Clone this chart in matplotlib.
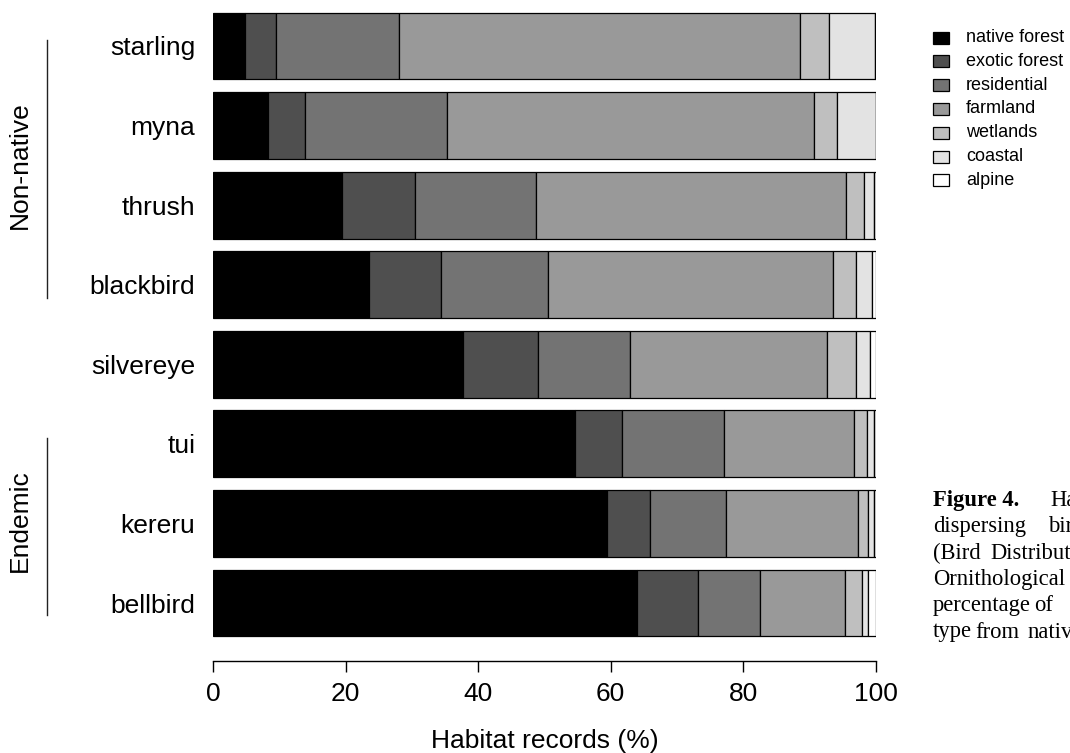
#### Workspace setup ####
import matplotlib
matplotlib.use('Agg')
import matplotlib.pyplot as plt
import matplotlib.transforms as mtransforms
from matplotlib.patches import Rectangle

plt.rcParams['font.family'] = ['Liberation Sans', 'DejaVu Sans']

#### Data ####
species = ['starling', 'myna', 'thrush', 'blackbird',
           'silvereye', 'tui', 'kereru', 'bellbird']

# Percentage of habitat records per species, one list per habitat type
native_forest = [4.8, 8.3, 19.4, 23.5, 37.7, 54.6, 59.5, 64.0]
exotic_forest = [4.7, 5.6, 11.0, 10.8, 11.3, 7.1, 6.5, 9.1]
residential = [18.6, 21.4, 18.3, 16.2, 13.9, 15.4, 11.4, 9.5]
farmland = [60.4, 55.4, 46.8, 43.0, 29.7, 19.6, 19.9, 12.7]
wetlands = [4.4, 3.5, 2.7, 3.6, 4.4, 2.0, 1.6, 2.6]
coastal = [7.0, 5.8, 1.6, 2.3, 2.1, 1.1, 0.9, 1.0]
alpine = [0.1, 0.0, 0.2, 0.6, 0.9, 0.2, 0.2, 1.1]

habitats = ['native forest', 'exotic forest', 'residential', 'farmland',
            'wetlands', 'coastal', 'alpine']
habitat_values = [native_forest, exotic_forest, residential, farmland,
                  wetlands, coastal, alpine]
greys = ['#000000', '#4f4f4f', '#737373', '#999999',
         '#bfbfbf', '#e3e3e3', '#ffffff']

groups = ['Non-native', 'Endemic']
group_members = [['starling', 'myna', 'thrush', 'blackbird'],
                 ['tui', 'kereru', 'bellbird']]

x_ticks = [0, 20, 40, 60, 80, 100]

caption_lines = [
    [('Figure 4.', 'bold', 933), ('Habitat', 'normal', 1050)],
    [('dispersing', 'normal', 933), ('birds', 'normal', 1048)],
    [('(Bird', 'normal', 933), ('Distribution', 'normal', 990)],
    [('Ornithological', 'normal', 933)],
    [('percentage', 'normal', 933), ('of', 'normal', 1034)],
    [('type', 'normal', 933), ('from', 'normal', 975), ('native', 'normal', 1027)],
]

#### Plot ####
W, H = 1070, 753
fig = plt.figure(figsize=(W / 100, H / 100), dpi=100)
ax = fig.add_axes([213.3 / W, 1 - 660.7 / H, 662.4 / W, 660.7 / H])

ypos = list(range(len(species)))
left = [0.0] * len(species)
for name, vals, col in zip(habitats, habitat_values, greys):
    ax.barh(ypos, vals, left=left, height=0.84, color=col,
            edgecolor='black', linewidth=0.9, label=name)
    left = [l + v for l, v in zip(left, vals)]

ax.set_xlim(0, 100)
ax.set_ylim(7.725, -0.578)
for side in ['top', 'right', 'left']:
    ax.spines[side].set_visible(False)
ax.spines['bottom'].set_linewidth(1.0)
ax.set_xticks(x_ticks)
ax.set_xticklabels([str(t) for t in x_ticks])
ax.tick_params(axis='x', length=8, width=1.0, labelsize=19, pad=7)
ax.set_yticks(ypos)
ax.set_yticklabels(species)
ax.tick_params(axis='y', length=0, labelsize=19, pad=13)
ax.set_xlabel('Habitat records (%)', fontsize=19, labelpad=17)

# Group brackets on the left margin
trans = mtransforms.blended_transform_factory(fig.transFigure, ax.transData)
group_spans = [(-0.075, 3.167), (4.927, 7.15)]
for g, members, (y0, y1) in zip(groups, group_members, group_spans):
    fig.add_artist(plt.Line2D([46.7 / W, 46.7 / W], [y0, y1], transform=trans,
                              color='#222222', linewidth=1.0))
    mid = (species.index(members[0]) + species.index(members[-1])) / 2
    if g == 'Endemic':
        mid = (y0 + y1) / 2 - 0.08
    fig.text(20 / W, mid, g, transform=trans, rotation=90,
             ha='center', va='center', fontsize=19)

# Legend drawn as boxes and labels
for i, (name, col) in enumerate(zip(habitats, greys)):
    yc = 37.5 + 23.8 * i
    fig.add_artist(Rectangle((933 / W, 1 - (yc + 6) / H), 16 / W, 12 / H,
                             transform=fig.transFigure, facecolor=col,
                             edgecolor='black', linewidth=0.9))
    fig.text(966 / W, 1 - yc / H, name, ha='left', va='center', fontsize=13)

# Figure caption, running off the right edge
for i, words in enumerate(caption_lines):
    base = 506 + 26.3 * i
    for word, weight, x in words:
        fig.text(x / W, 1 - base / H, word, ha='left', va='baseline',
                 fontsize=16.3, fontweight=weight,
                 family=['Liberation Serif', 'DejaVu Serif'])

fig.savefig('out.png', dpi=100)
